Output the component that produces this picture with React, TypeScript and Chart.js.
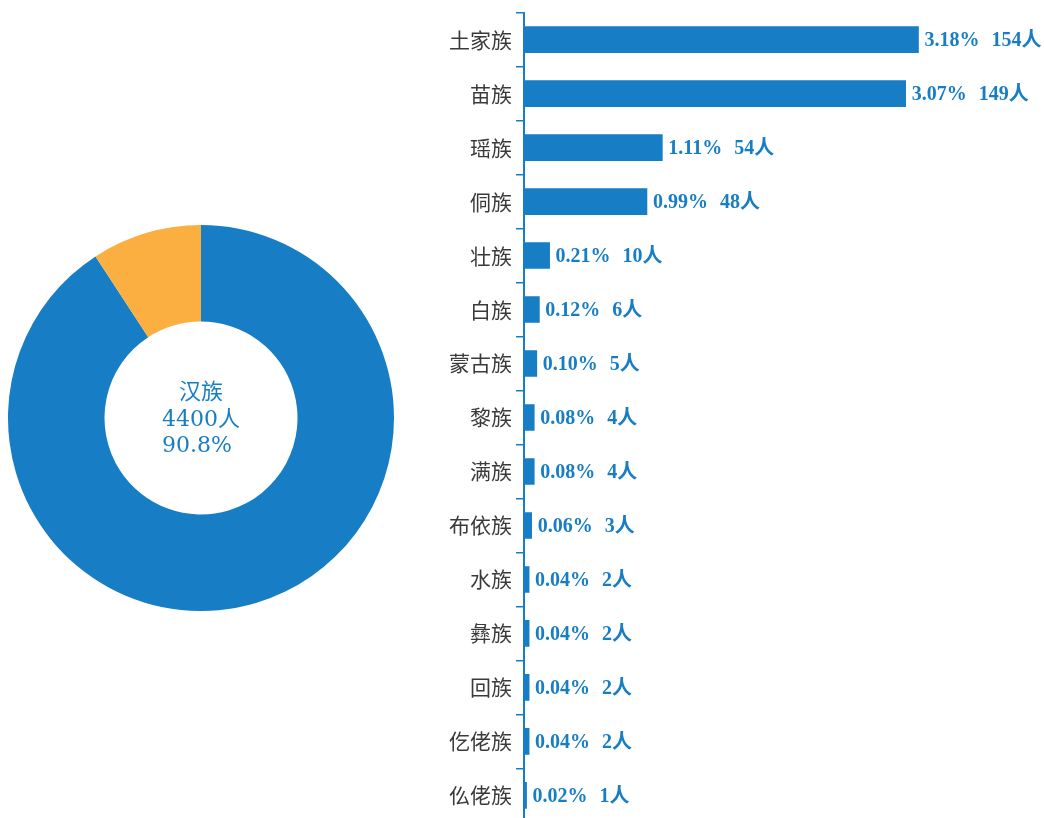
import React, { useEffect, useRef } from "react";
import { Chart, registerables } from "chart.js";

Chart.register(...registerables);

const categories = ["土家族", "苗族", "瑶族", "侗族", "壮族", "白族", "蒙古族", "黎族", "满族", "布依族", "水族", "彝族", "回族", "仡佬族", "仫佬族"];
const counts = [154, 149, 54, 48, 10, 6, 5, 4, 4, 3, 2, 2, 2, 2, 1];
const percents = ["3.18", "3.07", "1.11", "0.99", "0.21", "0.12", "0.10", "0.08", "0.08", "0.06", "0.04", "0.04", "0.04", "0.04", "0.02"];

const donutLabels = ["汉族", "少数民族"];
const donutValues = [4400, 446];
const centerLines = ["汉族", "4400人", "90.8%"];

const BLUE = "#177DC4";
const ORANGE = "#FAAF40";

export default function App() {
  const donutRef = useRef<HTMLCanvasElement>(null);
  const barRef = useRef<HTMLCanvasElement>(null);

  useEffect(() => {
    const centerText = {
      id: "centerText",
      afterDraw(chart: any) {
        const { ctx } = chart;
        const meta = chart.getDatasetMeta(0);
        const arc = meta.data[0];
        const cx = arc.x;
        const cy = arc.y;
        ctx.save();
        ctx.fillStyle = BLUE;
        ctx.font = '22px "DejaVu Serif", "Noto Sans CJK SC", serif';
        ctx.textAlign = "center";
        ctx.textBaseline = "middle";
        ctx.fillText(centerLines[0], cx, cy - 25);
        ctx.fillText(centerLines[1], cx, cy + 2);
        ctx.fillText(centerLines[2], cx - 4, cy + 28);
        ctx.restore();
      },
    };

    const donut = new Chart(donutRef.current!, {
      type: "doughnut",
      data: {
        labels: donutLabels,
        datasets: [
          {
            data: donutValues,
            backgroundColor: [BLUE, ORANGE],
            borderWidth: 0,
          },
        ],
      },
      options: {
        animation: false,
        responsive: false,
        cutout: "50%",
        plugins: { legend: { display: false }, tooltip: { enabled: false } },
        layout: { padding: 0 },
      },
      plugins: [centerText],
    });

    const valueLabels = {
      id: "valueLabels",
      afterDatasetsDraw(chart: any) {
        const { ctx } = chart;
        const meta = chart.getDatasetMeta(0);
        ctx.save();
        ctx.fillStyle = BLUE;
        ctx.font = 'bold 20px "Liberation Serif", "Noto Sans CJK SC", serif';
        ctx.textAlign = "left";
        ctx.textBaseline = "middle";
        meta.data.forEach((bar: any, i: number) => {
          const x = bar.x + 6;
          const y = bar.y + 1;
          const p = percents[i] + "%";
          ctx.fillText(p, x, y);
          const w = ctx.measureText(p).width;
          ctx.fillText(counts[i] + "人", x + w + 12, y);
        });
        ctx.restore();
      },
    };

    const bar = new Chart(barRef.current!, {
      type: "bar",
      data: {
        labels: categories,
        datasets: [
          {
            data: counts,
            backgroundColor: BLUE,
            borderWidth: 0,
            barThickness: 26,
          },
        ],
      },
      options: {
        animation: false,
        responsive: false,
        indexAxis: "y",
        layout: { padding: { top: 13, bottom: 2, left: 0, right: 0 } },
        plugins: { legend: { display: false }, tooltip: { enabled: false } },
        scales: {
          x: {
            display: false,
            min: 0,
            max: 203,
          },
          y: {
            offset: true,
            border: { display: true, color: BLUE, width: 2 },
            grid: {
              offset: true,
              drawOnChartArea: false,
              drawTicks: true,
              tickLength: 8,
              color: BLUE,
              lineWidth: 1.5,
            },
            ticks: {
              color: "#3a3a3a",
              font: { size: 21, family: '"Noto Sans CJK SC", serif' },
              padding: 4,
            },
            afterFit(scale: any) {
              scale.width = 104;
            },
          },
        },
      },
      plugins: [valueLabels],
    });

    return () => {
      donut.destroy();
      bar.destroy();
    };
  }, []);

  return (
    <div
      style={{
        position: "fixed",
        left: 0,
        top: 0,
        width: 1044,
        height: 818,
        overflow: "hidden",
        background: "#ffffff",
      }}
    >
      <canvas
        ref={donutRef}
        width={386}
        height={386}
        style={{ position: "absolute", left: 8, top: 225, width: 386, height: 386 }}
      />
      <canvas
        ref={barRef}
        width={624}
        height={843}
        style={{ position: "absolute", left: 420, top: -4, width: 624, height: 843 }}
      />
    </div>
  );
}
